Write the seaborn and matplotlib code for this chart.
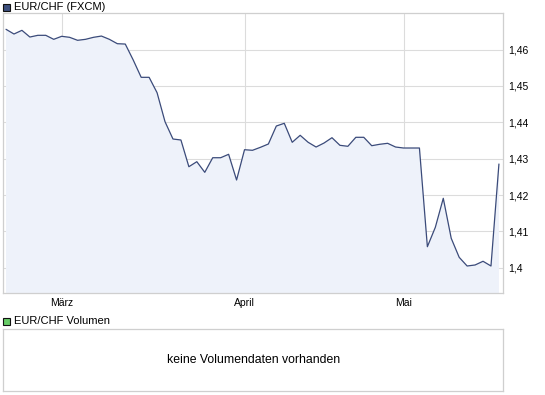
import numpy as np
import pandas as pd
import matplotlib
matplotlib.use("Agg")
import matplotlib.pyplot as plt
import seaborn as sns
from matplotlib.patches import Rectangle

# ---- data ----
title_main = "EUR/CHF (FXCM)"
title_vol = "EUR/CHF Volumen"
no_volume_text = "keine Volumendaten vorhanden"
month_names = {3: "März", 4: "April", 5: "Mai"}
holidays = ["2010-04-02", "2010-04-05", "2010-05-13"]
start_date = "2010-02-18"
close = [1.46555, 1.46426, 1.46527, 1.46343, 1.46390, 1.46390, 1.46280, 1.46363,
         1.46335, 1.46253, 1.46280, 1.46335, 1.46370, 1.46280, 1.46160, 1.46150,
         1.45712, 1.45236, 1.45236, 1.44813, 1.44016, 1.43541, 1.43514, 1.42780,
         1.42918, 1.42626, 1.43027, 1.43027, 1.43121, 1.42415, 1.43247, 1.43231,
         1.43313, 1.43404, 1.43898, 1.43973, 1.43451, 1.43643, 1.43451, 1.43321,
         1.43431, 1.43577, 1.43368, 1.43341, 1.43588, 1.43588, 1.43357, 1.43396,
         1.43423, 1.43321, 1.43294, 1.43294, 1.43294, 1.40582, 1.41115, 1.41912,
         1.40813, 1.40291, 1.40052, 1.40080, 1.40182, 1.40052, 1.42854]
y_ticks = [1.40, 1.41, 1.42, 1.43, 1.44, 1.45, 1.46]
y_tick_labels = ["1,4", "1,41", "1,42", "1,43", "1,44", "1,45", "1,46"]

dates = pd.bdate_range(start=start_date, periods=len(close), freq="C", holidays=holidays)
df = pd.DataFrame({"date": dates, "close": close})
df["pos"] = np.arange(len(df))

# month tick positions: first trading day of each month
month_first = df.groupby(df["date"].dt.month)["pos"].min()
month_ticks = [(p, month_names[m]) for m, p in month_first.items() if m in month_names and p > 0]

# ---- style ----
sns.set_style("white")
plt.rcParams["font.family"] = ["Liberation Sans", "DejaVu Sans"]

W, H = 545, 395
fig = plt.figure(figsize=(W / 100, H / 100), dpi=100)

def fx(px):
    return px / W

def fy(py):
    return 1 - py / H

grid_c = "#dcdcdc"
border_c = "#cfcfcf"
line_c = "#3b4b7a"
fill_c = "#eef2fa"

# main panel
l, r, t, b = 3, 503.3, 13.3, 293.3
ax = fig.add_axes([fx(l), fy(b), fx(r - l), (b - t) / H])
ax.fill_between(df["pos"], df["close"], 1.3, color=fill_c, lw=0, zorder=1)
sns.lineplot(data=df, x="pos", y="close", ax=ax, color=line_c, lw=0.9, zorder=3)
ax.set_xlim(-0.38, 62.55)
ax.set_ylim(1.39302, 1.46995)
ax.set_yticks(y_ticks)
ax.set_yticklabels(y_tick_labels)
ax.set_xticks([p for p, _ in month_ticks])
ax.set_xticklabels([n for _, n in month_ticks])
ax.yaxis.tick_right()
ax.tick_params(axis="y", length=0, pad=3.6, labelsize=7.5, colors="black")
ax.tick_params(axis="x", length=0, pad=3.5, labelsize=7.5, colors="black")
ax.grid(True, color=grid_c, lw=0.8, zorder=0)
ax.set_axisbelow(True)
ax.set_xlabel("")
ax.set_ylabel("")
for s in ax.spines.values():
    s.set_color(border_c)
    s.set_linewidth(0.9)

# header legend main
fig.patches.append(Rectangle((fx(3), fy(10.5)), 7 / W, 7 / H, transform=fig.transFigure,
                             facecolor="#3d4f7d", edgecolor="#111111", lw=0.8))
fig.text(fx(14), fy(6.8), title_main, fontsize=8, va="center", ha="left", color="black")

# volume legend
fig.patches.append(Rectangle((fx(3), fy(324.5)), 7 / W, 7 / H, transform=fig.transFigure,
                             facecolor="#66cc66", edgecolor="#111111", lw=0.8))
fig.text(fx(14), fy(320.5), title_vol, fontsize=8, va="center", ha="left", color="black")

# volume panel
vt, vb = 328.7, 390.5
ax2 = fig.add_axes([fx(l), fy(vb), fx(r - l), (vb - vt) / H])
ax2.set_xticks([])
ax2.set_yticks([])
for s in ax2.spines.values():
    s.set_color(border_c)
    s.set_linewidth(0.9)
ax2.text(0.5, 0.5, no_volume_text, transform=ax2.transAxes, ha="center", va="center",
         fontsize=8.8, color="black")

fig.savefig("out.png", dpi=100)
